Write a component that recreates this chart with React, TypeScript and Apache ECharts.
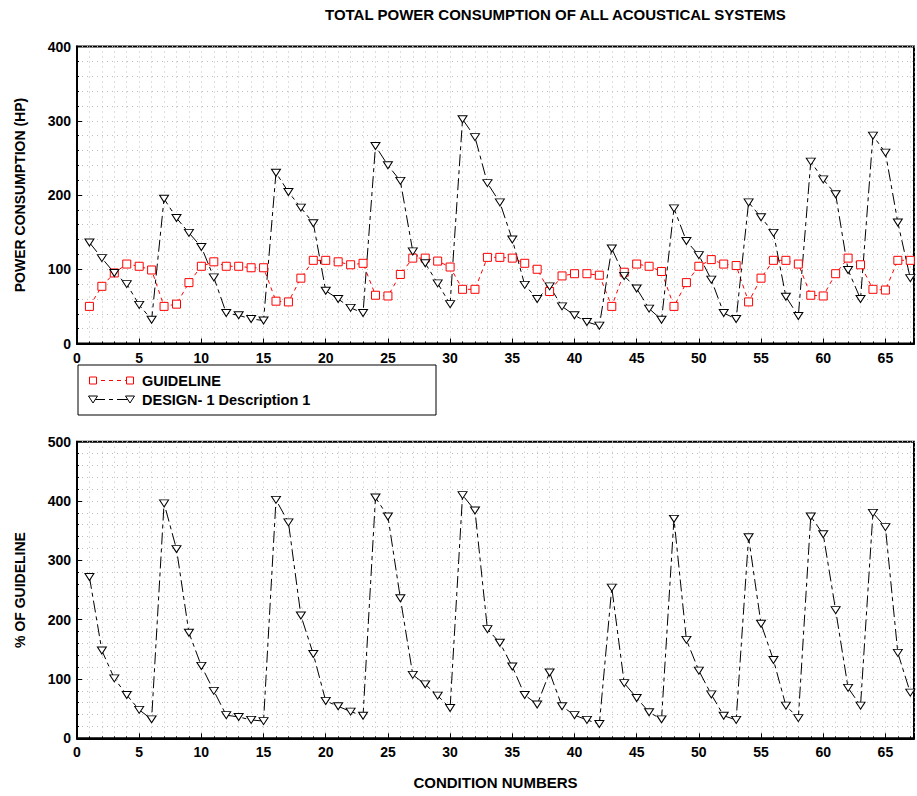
import React, { useEffect, useRef } from "react";
import * as echarts from "echarts";

const conditions = Array.from({ length: 67 }, (_, i) => i + 1);

const guideline = [
  50, 77, 95, 107, 104, 99, 50, 53, 82, 104, 110, 104, 104, 102, 102, 57, 56, 88, 112, 112, 110, 106,
  108, 65, 64, 93, 115, 115, 111, 103, 73, 73, 116, 116, 115, 108, 100, 70, 91, 94, 94, 92, 50, 96,
  107, 104, 97, 50, 82, 104, 113, 107, 105, 56, 88, 112, 112, 107, 65, 64, 94, 115, 106, 73, 72, 112, 112,
];

const design = [
  136, 115, 95, 80, 52, 32, 195, 169, 149, 130, 89, 41, 38, 33, 31, 230, 204, 183, 162, 71, 60, 48,
  41, 266, 240, 219, 124, 108, 81, 53, 302, 278, 216, 190, 140, 79, 60, 77, 50, 38, 29, 24, 128, 91,
  74, 47, 32, 182, 138, 119, 86, 41, 33, 190, 170, 149, 63, 37, 245, 221, 201, 99, 60, 280, 257, 163, 88,
];

const percentOfGuideline = [
  272, 148, 101, 73, 48, 32, 396, 319, 178, 122, 80, 39, 36, 31, 29, 402, 364, 207, 142, 63, 54, 45,
  38, 406, 374, 236, 107, 91, 72, 51, 410, 384, 184, 161, 121, 73, 57, 111, 54, 39, 31, 24, 254, 93,
  68, 44, 32, 370, 166, 114, 74, 38, 31, 339, 193, 132, 55, 34, 374, 344, 216, 85, 55, 380, 356, 144, 77,
];

const titleText = "TOTAL POWER CONSUMPTION OF ALL ACOUSTICAL SYSTEMS";
const topYName = "POWER CONSUMPTION (HP)";
const bottomYName = "% OF GUIDELINE";
const xName = "CONDITION NUMBERS";
const legendNames = ["GUIDELINE", "DESIGN- 1 Description 1"];

const FONT = "'Liberation Sans', Arial, Helvetica, sans-serif";
const GRID_COLOR = "#bdbdbd";
const GRID_DASH = [1, 4];
const X_MAX = 67.3;

function xAxisMain(gridIndex: number, withName: boolean) {
  return {
    type: "value",
    gridIndex,
    min: 0,
    max: X_MAX,
    interval: 5,
    name: withName ? xName : "",
    nameLocation: "middle",
    nameGap: 37,
    nameTextStyle: { fontFamily: FONT, fontWeight: "bold", fontSize: 15, color: "#000" },
    axisLine: { show: true, onZero: false, lineStyle: { color: "#000", width: 2 } },
    axisTick: { show: true, inside: true, length: 5, lineStyle: { color: "#000" } },
    axisLabel: {
      margin: 7,
      fontFamily: FONT,
      fontWeight: "bold",
      fontSize: 14,
      color: "#000",
      formatter: (v: number) => (v % 5 === 0 && v <= 65 ? String(v) : ""),
    },
    splitLine: { show: false },
  };
}

function xAxisMinor(gridIndex: number) {
  return {
    type: "value",
    gridIndex,
    min: 0,
    max: X_MAX,
    interval: 1,
    position: "bottom",
    axisLine: { show: false, onZero: false },
    axisTick: { show: true, inside: true, length: 2, lineStyle: { color: "#000" } },
    axisLabel: { show: false },
    splitLine: { show: true, lineStyle: { color: GRID_COLOR, type: GRID_DASH, width: 1 } },
  };
}

function yAxisCfg(gridIndex: number, max: number, name: string) {
  return {
    type: "value",
    gridIndex,
    min: 0,
    max,
    interval: 100,
    name,
    nameLocation: "middle",
    nameGap: 50,
    nameTextStyle: { fontFamily: FONT, fontWeight: "bold", fontSize: 14, color: "#000" },
    axisLine: { show: true, lineStyle: { color: "#000", width: 2 } },
    axisTick: { show: true, inside: true, length: 5, lineStyle: { color: "#000" } },
    minorTick: { show: true, splitNumber: 5, length: 2, lineStyle: { color: "#000" } },
    axisLabel: { margin: 6, fontFamily: FONT, fontWeight: "bold", fontSize: 14, color: "#000" },
    splitLine: { show: true, lineStyle: { color: GRID_COLOR, type: GRID_DASH, width: 1 } },
    minorSplitLine: { show: true, lineStyle: { color: GRID_COLOR, type: GRID_DASH, width: 1 } },
  };
}

function downTri(cx: number, cy: number) {
  return [
    [cx - 4.5, cy - 3.5],
    [cx + 4.5, cy - 3.5],
    [cx, cy + 3.5],
  ];
}

const BLACK_DASH = [12, 4, 4, 4];
const RED_DASH = [4, 4];

export default function App() {
  const ref = useRef<HTMLDivElement>(null);

  useEffect(() => {
    if (!ref.current) return;
    const chart = echarts.init(ref.current, null, { renderer: "svg" });

    const row1 = 380.5;
    const row2 = 399.5;

    chart.setOption({
      animation: false,
      backgroundColor: "#fff",
      title: {
        text: titleText,
        left: 325,
        top: 7,
        padding: 0,
        textStyle: { fontFamily: FONT, fontWeight: "bold", fontSize: 15, color: "#000" },
      },
      grid: [
        { left: 77, top: 46.5, right: 0, height: 297, show: true, borderColor: "#000", borderWidth: 2, backgroundColor: "transparent" },
        { left: 77, top: 441.7, right: 0, height: 296.6, show: true, borderColor: "#000", borderWidth: 2, backgroundColor: "transparent" },
      ],
      xAxis: [xAxisMain(0, false), xAxisMain(1, true), xAxisMinor(0), xAxisMinor(1)],
      yAxis: [yAxisCfg(0, 400, topYName), yAxisCfg(1, 500, bottomYName)],
      series: [
        {
          name: legendNames[0],
          type: "line",
          xAxisIndex: 0,
          yAxisIndex: 0,
          data: conditions.map((c, i) => [c, guideline[i]]),
          symbol: "rect",
          symbolSize: 8,
          itemStyle: { color: "#fff", borderColor: "#ff0000", borderWidth: 1 },
          lineStyle: { color: "#ff0000", width: 1, type: RED_DASH },
          emphasis: { disabled: true },
        },
        {
          name: legendNames[1],
          type: "line",
          xAxisIndex: 0,
          yAxisIndex: 0,
          data: conditions.map((c, i) => [c, design[i]]),
          symbol: "triangle",
          symbolRotate: 180,
          symbolSize: [9, 7],
          itemStyle: { color: "#fff", borderColor: "#000", borderWidth: 1 },
          lineStyle: { color: "#000", width: 1, type: BLACK_DASH },
          emphasis: { disabled: true },
        },
        {
          name: "percent",
          type: "line",
          xAxisIndex: 1,
          yAxisIndex: 1,
          data: conditions.map((c, i) => [c, percentOfGuideline[i]]),
          symbol: "triangle",
          symbolRotate: 180,
          symbolSize: [9, 7],
          itemStyle: { color: "#fff", borderColor: "#000", borderWidth: 1 },
          lineStyle: { color: "#000", width: 1, type: BLACK_DASH },
          emphasis: { disabled: true },
        },
      ],
      graphic: [
        {
          type: "rect",
          shape: { x: 78, y: 365, width: 358, height: 50 },
          style: { fill: "#fff", stroke: "#000", lineWidth: 1 },
          z: 100,
        },
        {
          type: "line",
          shape: { x1: 93, y1: row1, x2: 130, y2: row1 },
          style: { stroke: "#ff0000", lineWidth: 1, lineDash: RED_DASH },
          z: 101,
        },
        {
          type: "rect",
          shape: { x: 89.5, y: row1 - 3.5, width: 7, height: 7 },
          style: { fill: "#fff", stroke: "#ff0000", lineWidth: 1 },
          z: 102,
        },
        {
          type: "rect",
          shape: { x: 126.5, y: row1 - 3.5, width: 7, height: 7 },
          style: { fill: "#fff", stroke: "#ff0000", lineWidth: 1 },
          z: 102,
        },
        {
          type: "text",
          x: 142,
          y: row1,
          style: { text: legendNames[0], fontFamily: FONT, fontWeight: "bold", fontSize: 14.5, fill: "#000", verticalAlign: "middle" },
          z: 102,
        },
        {
          type: "line",
          shape: { x1: 93, y1: row2, x2: 130, y2: row2 },
          style: { stroke: "#000", lineWidth: 1, lineDash: BLACK_DASH },
          z: 101,
        },
        {
          type: "polygon",
          shape: { points: downTri(93, row2) },
          style: { fill: "#fff", stroke: "#000", lineWidth: 1 },
          z: 102,
        },
        {
          type: "polygon",
          shape: { points: downTri(130, row2) },
          style: { fill: "#fff", stroke: "#000", lineWidth: 1 },
          z: 102,
        },
        {
          type: "text",
          x: 142,
          y: row2,
          style: { text: legendNames[1], fontFamily: FONT, fontWeight: "bold", fontSize: 14.5, fill: "#000", verticalAlign: "middle" },
          z: 102,
        },
      ],
    });
    return () => chart.dispose();
  }, []);

  return (
    <div
      ref={ref}
      style={{ position: "absolute", left: 0, top: 0, width: 917, height: 796, overflow: "hidden", background: "#fff" }}
    />
  );
}
